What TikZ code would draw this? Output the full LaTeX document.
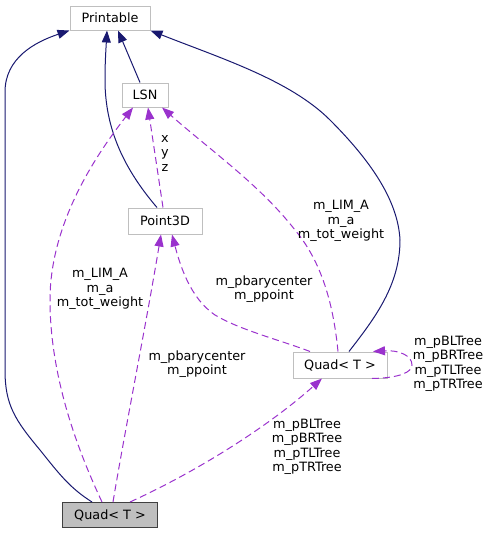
\documentclass[tikz,border=0pt]{standalone}
\usepackage{fontspec}
\setmainfont{DejaVu Sans}
\usetikzlibrary{arrows.meta}
\definecolor{inhcol}{HTML}{191970}
\definecolor{usecol}{HTML}{9A32CD}
\definecolor{boxcol}{HTML}{BFBFBF}
\definecolor{darkbox}{HTML}{404040}
\tikzset{
  cls/.style={draw=boxcol, line width=1pt, fill=white, inner sep=0pt, minimum height=24pt, font=\fontsize{12.8}{14.5}\selectfont},
  curcls/.style={cls, draw=darkbox, fill=boxcol},
  inh/.style={draw=inhcol, line width=1pt, -{Triangle[length=12pt,width=9pt]}, fill=none},
  usage/.style={draw=usecol, line width=1pt, dash pattern=on 7pt off 4pt, -{Triangle[length=12pt,width=9pt]}, fill=none},
  lbl/.style={align=center, inner sep=0pt, font=\fontsize{12.8}{14.5}\selectfont}
}
\begin{document}
\begin{tikzpicture}[x=1pt,y=-1pt]
\useasboundingbox (0,0) rectangle (491,533);
% nodes
\node[cls, minimum width=80pt] (pr) at (110,18) {Printable};
\node[cls, minimum width=46pt] (lsn) at (145,95) {LSN};
\node[cls, minimum width=74pt, minimum height=26pt] (p3) at (165,221) {Point3D};
\node[cls, minimum width=94pt, minimum height=26pt] (qr) at (340,365) {Quad< T >};
\node[curcls, minimum width=95pt, minimum height=25pt] (qb) at (110,515) {Quad< T >};
% inheritance edges
\draw[inh] ([xshift=-18pt]qb.north) .. controls (70,488) and (60,475) .. (40,450)
  .. controls (15,420) and (5,405) .. (5,370) -- (5,92)
  .. controls (5,58) and (35,42) .. (pr.south west);
\draw[inh] ([xshift=-8pt]p3.north) .. controls (125,170) and (105,130) .. (105,80)
  .. controls (105,62) and (106,48) .. ([xshift=-3pt]pr.south);
\draw[inh] ([xshift=-5pt]lsn.north) -- ([xshift=8pt]pr.south);
\draw[inh] ([xshift=9pt]qr.north) .. controls (375,318) and (400,285) .. (400,240)
  .. controls (398,200) and (370,160) .. (330,120)
  .. controls (290,80) and (220,58) .. (pr.south east);
% usage edges
\draw[usage] ([xshift=-8pt]qb.north) .. controls (80,455) and (50,380) .. (50,300)
  .. controls (50,220) and (100,150) .. ([xshift=-12pt]lsn.south);
\node[lbl] (l1) at (100,289) {m\_LIM\_A\\m\_a\\m\_tot\_weight};
\draw[usage] ([xshift=-2pt]p3.north) -- ([xshift=3pt]lsn.south);
\node[lbl] (l2) at (165,153) {x\\y\\z};
\draw[usage] ([xshift=-2pt]qr.north) .. controls (333,300) and (320,260) .. (295,230)
  .. controls (260,185) and (210,150) .. ([xshift=17pt]lsn.south);
\node[lbl] (l3) at (341,221) {m\_LIM\_A\\m\_a\\m\_tot\_weight};
\draw[usage] ([xshift=-30pt]qr.north) .. controls (280,340) and (240,330) .. (215,315)
  .. controls (190,298) and (180,265) .. ([xshift=7pt]p3.south);
\node[lbl] (l4) at (264,289) {m\_pbarycenter\\m\_ppoint};
\draw[usage] ([xshift=3pt]qb.north) .. controls (125,430) and (145,330) .. ([xshift=-4pt]p3.south);
\node[lbl] (l5) at (197,364) {m\_pbarycenter\\m\_ppoint};
\draw[usage] ([xshift=20pt]qb.north) .. controls (200,470) and (270,425) .. ([xshift=-18pt]qr.south);
\node[lbl] (l6) at (307,447) {m\_pBLTree\\m\_pBRTree\\m\_pTLTree\\m\_pTRTree};
\draw[usage] ([xshift=32pt]qr.south) .. controls (400,378) and (412,372) .. (412,365)
  .. controls (412,355) and (398,350) .. ([xshift=33pt]qr.north);
\node[lbl] (l7) at (448,364) {m\_pBLTree\\m\_pBRTree\\m\_pTLTree\\m\_pTRTree};
\end{tikzpicture}
\end{document}
